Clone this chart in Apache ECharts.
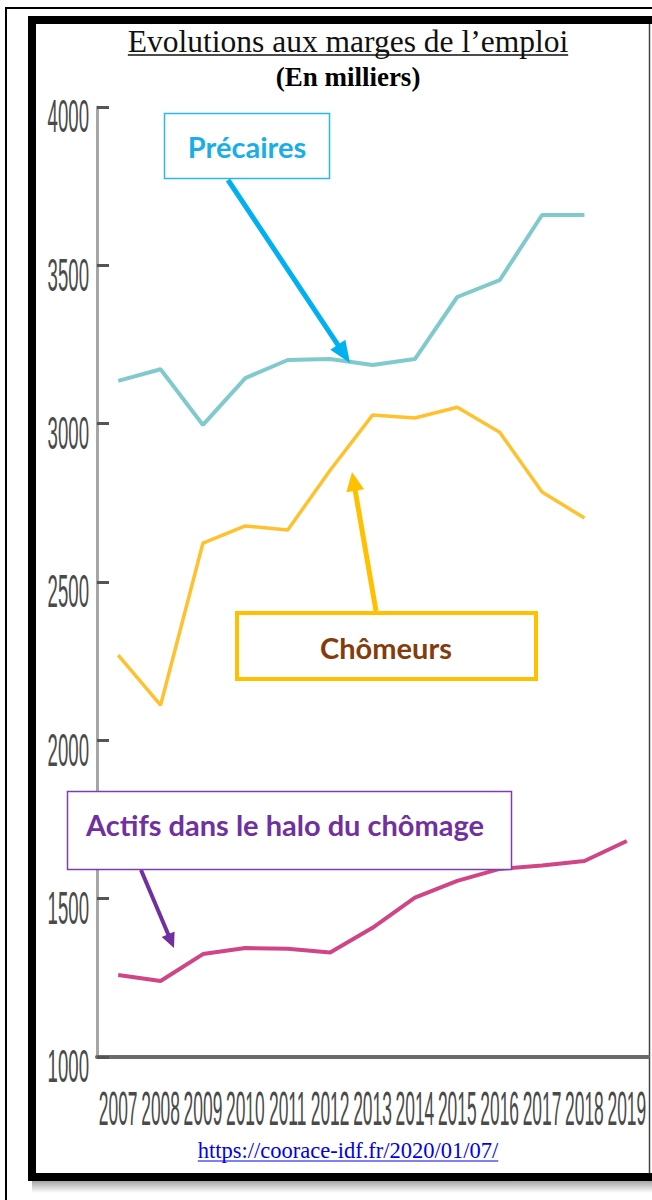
<!DOCTYPE html>
<html><head><meta charset="utf-8">
<script src="https://cdn.jsdelivr.net/npm/echarts@6/dist/echarts.min.js"></script>
<style>html,body{margin:0;padding:0;background:#fff}#c{width:652px;height:1200px}</style>
</head><body><div id="c"></div>
<script>
// ---- data ----
const years = ['2007','2008','2009','2010','2011','2012','2013','2014','2015','2016','2017','2018','2019'];
const precaires = [3135, 3172, 2996, 3144, 3201, 3204, 3185, 3204, 3400, 3453, 3659, 3659, null];
const chomeurs  = [2269, 2111, 2623, 2677, 2664, 2853, 3027, 3018, 3052, 2973, 2784, 2702, null];
const halo      = [1259, 1240, 1325, 1344, 1342, 1330, 1408, 1503, 1556, 1594, 1605, 1619, 1682];
const yTicks = [1000, 1500, 2000, 2500, 3000, 3500, 4000];
const yTickLabels = ['1000', '1500', '2000', '2500', '3000', '3500', '4000'];
const seriesNames = ['Précaires', 'Chômeurs', 'Actifs dans le halo du chômage'];
const titleText = 'Evolutions aux marges de l’emploi';
const subtitleText = '(En milliers)';
const sourceText = 'https://coorace-idf.fr/2020/01/07/';

// ---- chart ----
const chart = echarts.init(document.getElementById('c'), null, {renderer: 'svg', width: 652, height: 1200});
const option = {
  backgroundColor: '#fff',
  animation: false,
  grid: {left: 97, right: 4, top: 107, bottom: 143},
  xAxis: {
    type: 'category', data: years, boundaryGap: true,
    axisLine: {lineStyle: {color: '#6b6b6b', width: 4}},
    axisTick: {inside: true, length: 20, lineStyle: {color: '#5a5a5a', width: 2}},
    axisLabel: {show: false}, splitLine: {show: false}
  },
  yAxis: {
    type: 'value', min: 1000, max: 4000, interval: 500,
    axisLine: {show: true, lineStyle: {color: '#a6a6a6', width: 3}},
    axisTick: {show: true, inside: true, length: 12, lineStyle: {color: '#555', width: 3}},
    axisLabel: {show: false}, splitLine: {show: false}
  },
  series: [
    {name: seriesNames[0], type: 'line', data: precaires, showSymbol: false, z: 3,
     lineStyle: {color: '#80cace', width: 4}, itemStyle: {color: '#80cace'}},
    {name: seriesNames[1], type: 'line', data: chomeurs, showSymbol: false, z: 3,
     lineStyle: {color: '#ffc12e', width: 3.5}, itemStyle: {color: '#ffc12e'}},
    {name: seriesNames[2], type: 'line', data: halo, showSymbol: false, z: 3,
     lineStyle: {color: '#cf4585', width: 4}, itemStyle: {color: '#cf4585'}}
  ]
};
chart.setOption(option);

// ---- helpers ----
const mctx = document.createElement('canvas').getContext('2d');
function textWidth(str, font) { mctx.font = font; return mctx.measureText(str).width; }
function txt(str, x, y, font, fill, align, extra) {
  return Object.assign({type: 'text', x: x, y: y, z: 20,
    style: {text: str, font: font, fill: fill, align: align || 'center', verticalAlign: 'middle',
            textAlign: align || 'center', textVerticalAlign: 'middle'}}, extra || {});
}
function arrow(x1, y1, x2, y2, color, w, headLen, headHalf) {
  const dx = x2 - x1, dy = y2 - y1, L = Math.sqrt(dx * dx + dy * dy);
  const ux = dx / L, uy = dy / L;
  const bx = x2 - ux * headLen, by = y2 - uy * headLen;
  return [
    {type: 'line', z: 15, shape: {x1: x1, y1: y1, x2: bx + ux * 2, y2: by + uy * 2}, style: {stroke: color, lineWidth: w}},
    {type: 'polygon', z: 15, shape: {points: [[x2, y2], [bx - uy * headHalf, by + ux * headHalf], [bx + uy * headHalf, by - ux * headHalf]]},
     style: {fill: color}}
  ];
}

// ---- frame ----
const g = [];
g.push({type: 'rect', z: -20, shape: {x: 6, y: 8, width: 700, height: 1300}, style: {fill: '#fff', stroke: '#000', lineWidth: 2}});
g.push({type: 'rect', z: -19, shape: {x: 32, y: 1181, width: 700, height: 12},
  style: {fill: new echarts.graphic.LinearGradient(0, 0, 0, 1, [{offset: 0, color: 'rgba(0,0,0,0.35)'}, {offset: 1, color: 'rgba(0,0,0,0)'}])}});
g.push({type: 'rect', z: -18, shape: {x: 28, y: 16, width: 700, height: 1165}, style: {fill: '#000'}});
g.push({type: 'rect', z: -17, shape: {x: 36, y: 24, width: 700, height: 1149}, style: {fill: '#fff'}});
g.push({type: 'line', z: -16, shape: {x1: 649.5, y1: 24, x2: 649.5, y2: 1173}, style: {stroke: '#444', lineWidth: 1.5}});

// ---- titles ----
const titleFont = '31.5px "Liberation Serif", "Times New Roman", serif';
const tw = textWidth(titleText, titleFont);
g.push(txt(titleText, 348, 41, titleFont, '#111'));
g.push({type: 'line', z: 20, shape: {x1: 348 - tw / 2, y1: 55, x2: 348 + tw / 2, y2: 55}, style: {stroke: '#111', lineWidth: 1.5}});
g.push(txt(subtitleText, 348, 77, 'bold 27px "Liberation Serif", "Times New Roman", serif', '#000'));
const srcFont = '22.5px "Liberation Serif", "Times New Roman", serif';
const sw = textWidth(sourceText, srcFont);
g.push(txt(sourceText, 348, 1150, srcFont, '#0000ee'));
g.push({type: 'line', z: 20, shape: {x1: 348 - sw / 2, y1: 1161, x2: 348 + sw / 2, y2: 1161}, style: {stroke: '#0000ee', lineWidth: 1.2}});

// ---- tick labels (positions from the chart's own scales) ----
const tickFont = '20px "Liberation Sans", Arial, sans-serif';
const x0 = chart.convertToPixel({xAxisIndex: 0}, years[0]);
const x1 = chart.convertToPixel({xAxisIndex: 0}, years[1]);
const gridLeft = x0 - (x1 - x0) / 2;
const baseY = chart.convertToPixel({yAxisIndex: 0}, yTicks[0]);
years.forEach(function (yr) {
  const px = chart.convertToPixel({xAxisIndex: 0}, yr);
  g.push(txt(yr, px, baseY + 51, tickFont, '#4a4a4a', 'center', {scaleX: 0.87, scaleY: 2.4}));
});
yTicks.forEach(function (v, i) {
  const py = chart.convertToPixel({yAxisIndex: 0}, v);
  g.push(txt(yTickLabels[i], gridLeft - 8, py + 9, tickFont, '#4a4a4a', 'right', {scaleX: 0.93, scaleY: 2.3}));
});

// ---- annotations ----
const annFont = 'bold 29px Lato, "Open Sans", sans-serif';
g.push({type: 'rect', z: 18, shape: {x: 164.5, y: 113.5, width: 165, height: 65}, style: {fill: '#fff', stroke: '#2cb7ee', lineWidth: 1.5}});
g.push(txt(seriesNames[0], 247, 146, annFont, '#19aee8'));
g.push({type: 'rect', z: 18, shape: {x: 237, y: 613, width: 299, height: 66}, style: {fill: '#fff', stroke: '#ffc000', lineWidth: 4}});
g.push(txt(seriesNames[1], 386, 647, annFont, '#843c0c'));
g.push({type: 'rect', z: 18, shape: {x: 67.5, y: 791.5, width: 444, height: 78}, style: {fill: '#fff', stroke: '#7b3fb0', lineWidth: 1.5}});
g.push(txt(seriesNames[2], 86, 824, annFont, '#7030a0', 'left'));
arrow(228, 180, 350, 363, '#00b0f0', 5, 22, 9).forEach(function (e) { g.push(e); });
arrow(376, 611, 352, 472, '#ffc000', 5, 19, 9).forEach(function (e) { g.push(e); });
arrow(141, 870, 174, 948, '#7030a0', 4, 15, 7).forEach(function (e) { g.push(e); });

chart.setOption({graphic: {elements: g}});
</script>
</body></html>
